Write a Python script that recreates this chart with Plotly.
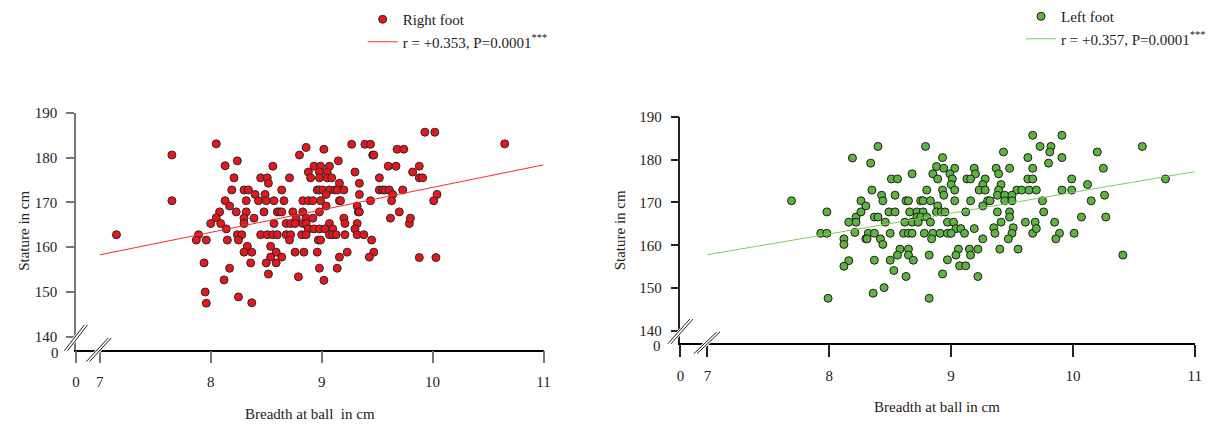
import plotly.graph_objects as go

# ---------------- data ----------------
# Right foot (left panel, red)
right_breadth = [
    7.15, 7.65, 7.65, 8.05, 8.13, 8.13, 8.08, 8.05, 8.00, 8.09, 8.14, 7.89, 7.87, 7.96, 8.15, 7.94, 8.12, 7.95, 7.96, 8.17,
    8.86, 9.02, 9.68, 9.74, 9.27, 9.39, 9.44, 8.80, 9.46, 9.47, 8.24, 9.15,
    8.56, 8.93, 8.99, 9.07, 9.60, 9.67,
    8.88, 8.98, 9.05, 9.30,
    8.21, 8.45, 8.51, 8.71, 8.90, 8.98, 9.05, 9.09, 9.52,
    8.52, 9.16, 9.34,
    8.19, 8.30, 8.34, 8.64, 8.96, 8.98, 9.01, 9.07, 9.12, 9.14, 9.20, 9.52, 9.55, 9.57, 9.61, 9.73,
    8.40, 8.49, 9.04, 9.34, 9.64,
    8.32, 8.43, 8.50, 8.57, 8.66, 8.83, 8.88, 8.92, 8.99, 9.16, 9.17, 9.44, 9.63,
    8.17, 9.04, 9.32,
    8.23, 8.32, 8.48, 8.60, 8.62, 8.64, 8.74, 8.83, 8.98, 9.33, 9.34, 9.70,
    8.30, 8.39, 8.77, 8.86, 8.92, 9.20, 9.62,
    8.30, 8.57, 8.68, 8.72, 8.76, 8.83, 8.86, 9.07, 9.21, 9.32, 9.79,
    8.88, 8.93, 8.98, 9.03, 9.10, 9.30,
    8.24, 8.28, 8.45, 8.51, 8.56, 8.60, 8.68, 8.72, 8.82, 8.86, 9.07, 9.10, 9.13, 9.21, 9.32, 9.38,
    8.25, 8.71, 8.97, 8.99, 9.45,
    8.33, 8.54,
    8.30, 8.37, 8.59, 8.76, 8.84, 8.96, 9.23, 9.47,
    8.54, 8.64, 9.16, 9.43,
    8.36, 8.50, 8.59,
    8.98, 9.14,
    8.52, 8.79, 9.02, 8.25, 8.37,
    9.93, 10.02, 10.65, 9.82, 9.88, 9.88, 9.91, 10.04, 10.01, 9.80, 9.88, 10.03,
]
right_stature = [
    162.8, 180.6, 170.4, 183.1, 178.2, 170.4, 167.9, 166.6, 165.3, 165.3, 164.1, 162.8, 161.6, 161.6, 161.6, 156.5, 152.7, 150.0, 147.5, 155.3,
    182.3, 181.9, 181.9, 181.9, 183.0, 183.0, 183.0, 180.6, 180.6, 180.6, 179.3, 179.3,
    178.1, 178.1, 178.1, 178.1, 178.1, 178.1,
    176.8, 176.8, 176.8, 176.8,
    175.5, 175.5, 175.5, 175.5, 175.5, 175.5, 175.5, 175.5, 175.5,
    174.3, 174.3, 174.3,
    172.8, 172.8, 172.8, 172.8, 172.8, 172.8, 172.8, 172.8, 172.8, 172.8, 172.8, 172.8, 172.8, 172.8, 172.8, 172.8,
    171.8, 171.8, 171.8, 171.8, 171.8,
    170.4, 170.4, 170.4, 170.4, 170.4, 170.4, 170.4, 170.4, 170.4, 170.4, 170.4, 170.4, 170.4,
    169.2, 169.2, 169.2,
    167.9, 167.9, 167.9, 167.9, 167.9, 167.9, 167.9, 167.9, 167.9, 167.9, 167.9, 167.9,
    166.5, 166.5, 166.5, 166.5, 166.5, 166.5, 166.5,
    165.3, 165.3, 165.3, 165.3, 165.3, 165.3, 165.3, 165.3, 165.3, 165.3, 165.3,
    164.1, 164.1, 164.1, 164.1, 164.1, 164.1,
    162.8, 162.8, 162.8, 162.8, 162.8, 162.8, 162.8, 162.8, 162.8, 162.8, 162.8, 162.8, 162.8, 162.8, 162.8, 162.8,
    161.6, 161.6, 161.6, 161.6, 161.6,
    160.2, 160.2,
    158.9, 158.9, 158.9, 158.9, 158.9, 158.9, 158.9, 158.9,
    157.8, 157.8, 157.8, 157.8,
    156.5, 156.5, 156.5,
    155.3, 155.3,
    154.0, 153.4, 152.6, 148.9, 147.6,
    185.7, 185.7, 183.1, 176.8, 178.1, 175.5, 175.5, 171.8, 170.4, 166.5, 157.7, 157.7,
]

# Left foot (right panel, green)
left_breadth = [
    7.69, 7.98, 7.93, 7.98, 8.12, 8.12, 8.16, 8.12, 7.99, 8.19, 8.16, 8.22, 8.22, 8.21,
    9.67, 8.40, 8.79, 9.43, 8.93, 9.63, 8.34,
    8.88, 8.94, 9.03, 9.19, 9.37, 9.48, 9.67,
    8.68, 8.85, 8.99, 9.20, 9.39,
    8.51, 8.56, 8.89, 9.01, 9.13, 9.16, 9.28, 9.63, 9.67,
    9.00, 9.26, 9.41,
    8.35, 8.80, 8.93, 9.03, 9.23, 9.28, 9.39, 9.54, 9.58, 9.64, 9.70,
    8.43, 8.54, 8.94, 9.38, 9.44, 9.50,
    8.26, 8.44, 8.63, 8.65, 8.75, 8.77, 8.83, 9.03, 9.16, 9.30, 9.32, 9.44, 9.50,
    8.30, 8.89, 9.26,
    8.26, 8.49, 8.54, 8.66, 8.72, 8.77, 8.88, 8.92, 8.95, 9.12, 9.38, 9.48,
    8.37, 8.40, 8.72, 8.75, 8.80, 9.48,
    8.46, 8.62, 8.68, 8.73, 8.83, 8.97, 9.02, 9.41, 9.61, 9.69,
    9.04, 9.08, 9.19, 9.35, 9.51,
    8.32, 8.37, 8.50, 8.61, 8.65, 8.68, 8.78, 8.85, 8.91, 8.97, 9.00, 9.11, 9.36, 9.50, 9.67,
    8.30, 8.31, 8.42, 8.84, 9.26, 9.47,
    8.44,
    8.58, 8.65, 9.06, 9.15, 9.22, 9.40, 9.55,
    8.56, 8.65, 8.82, 9.04, 9.16,
    8.37, 8.50, 8.69, 8.97,
    9.07, 9.12, 8.53, 8.63, 8.93, 9.22, 8.45, 8.36, 8.82,
    9.73, 9.82, 9.91, 9.81, 10.20, 10.57, 9.91, 9.80, 10.25, 9.99, 10.12, 10.76,
    9.91, 9.99, 10.26, 10.15, 9.76, 10.07, 10.27, 9.85, 9.89, 10.01, 9.86, 10.41, 9.75, 9.70,
]
left_stature = [
    170.4, 167.8, 162.8, 162.8, 161.5, 160.2, 156.4, 155.1, 147.6, 180.4, 165.4, 166.6, 165.4, 163.0,
    185.7, 183.1, 183.1, 181.8, 180.5, 180.5, 179.2,
    178.4, 178.0, 178.0, 178.0, 178.0, 178.0, 178.0,
    176.7, 176.7, 176.7, 176.7, 176.7,
    175.5, 175.5, 175.5, 175.5, 175.5, 175.5, 175.5, 175.5, 175.5,
    174.2, 174.2, 174.2,
    172.9, 172.9, 172.9, 172.9, 172.9, 172.9, 172.9, 172.9, 172.9, 172.9, 172.9,
    171.7, 171.7, 171.7, 171.7, 171.7, 171.7,
    170.4, 170.4, 170.4, 170.4, 170.4, 170.4, 170.4, 170.4, 170.4, 170.4, 170.4, 170.4, 170.4,
    169.2, 169.2, 169.2,
    167.8, 167.8, 167.8, 167.8, 167.8, 167.8, 167.8, 167.8, 167.8, 167.8, 167.8, 167.8,
    166.6, 166.6, 166.6, 166.6, 166.6, 166.6,
    165.4, 165.4, 165.4, 165.4, 165.4, 165.4, 165.4, 165.4, 165.4, 165.4,
    163.9, 163.9, 163.9, 164.1, 164.1,
    162.8, 162.8, 162.8, 162.8, 162.8, 162.8, 162.8, 162.8, 162.8, 162.8, 162.8, 162.8, 162.8, 162.8, 162.8,
    161.5, 161.5, 161.5, 161.5, 161.5, 161.5,
    160.2,
    159.1, 159.1, 159.1, 159.1, 159.1, 159.1, 159.1,
    157.7, 157.7, 157.7, 157.7, 157.7,
    156.5, 156.5, 156.5, 156.6,
    155.2, 155.2, 154.1, 152.7, 153.3, 152.7, 150.1, 148.8, 147.6,
    183.1, 183.1, 185.7, 181.8, 181.8, 183.1, 180.5, 179.2, 178.0, 175.5, 174.2, 175.5,
    172.9, 172.9, 171.7, 170.4, 167.8, 166.6, 166.6, 165.4, 162.8, 162.8, 161.5, 157.7, 170.4, 163.9,
]

# regression lines (end points)
right_fit_x = [7.0, 11.0]
right_fit_y = [158.3, 178.4]
left_fit_x = [7.0, 11.0]
left_fit_y = [157.8, 177.2]

x_ticks = [7, 8, 9, 10, 11]
y_ticks = [140, 150, 160, 170, 180, 190]
right_label = "Right foot"
left_label = "Left foot"
right_r_label = "r = +0.353, P=0.0001<sup>***</sup>"
left_r_label = "r = +0.357, P=0.0001<sup>***</sup>"

# ---------------- layout geometry ----------------
W, H = 1211, 427
FONT = "Liberation Serif, Times New Roman, serif"


def px(x):
    return x / W


def py(y):
    return 1 - y / H


L_X0, R_X0 = 6.785, 6.778   # axis origin shown as "0"
L_Y0, R_Y0 = 137.1, 137.2

fig = go.Figure()

fig.add_trace(go.Scatter(
    x=right_breadth, y=right_stature, mode="markers", name=right_label,
    marker=dict(size=8, color="#e8161c", line=dict(color="#2a2a2a", width=1)),
    xaxis="x", yaxis="y", legend="legend", legendgroup="a"))
fig.add_trace(go.Scatter(
    x=right_fit_x, y=right_fit_y, mode="lines", name=right_r_label,
    line=dict(color="#ff2a2a", width=1),
    xaxis="x", yaxis="y", legend="legend", legendgroup="b"))
fig.add_trace(go.Scatter(
    x=left_breadth, y=left_stature, mode="markers", name=left_label,
    marker=dict(size=8, color="#5db33d", line=dict(color="#1e1e1e", width=1)),
    xaxis="x2", yaxis="y2", legend="legend2", legendgroup="c"))
fig.add_trace(go.Scatter(
    x=left_fit_x, y=left_fit_y, mode="lines", name=left_r_label,
    line=dict(color="#7fcc5a", width=1),
    xaxis="x2", yaxis="y2", legend="legend2", legendgroup="d"))

tickfont = dict(family=FONT, size=15, color="#222")


def xaxis(domain, x0, anchor, color):
    return dict(domain=domain, range=[x0, 11], anchor=anchor,
                tickvals=[x0] + x_ticks, ticktext=["0"] + [str(v) for v in x_ticks],
                ticks="outside", ticklen=12, tickwidth=1.5, tickcolor=color,
                showline=True, linecolor="black", linewidth=1.5,
                showgrid=False, zeroline=False, tickfont=tickfont,
                ticklabelstandoff=6, automargin=False, fixedrange=True)


def yaxis(domain, y0, anchor, color):
    return dict(domain=domain, range=[y0, 190], anchor=anchor,
                tickvals=y_ticks, ticktext=[str(v) for v in y_ticks],
                ticks="outside", ticklen=8, tickwidth=1.5, tickcolor=color,
                showline=True, linecolor=color, linewidth=1.5,
                showgrid=False, zeroline=False, tickfont=tickfont,
                ticklabelstandoff=6, automargin=False, fixedrange=True)


fig.update_layout(
    width=W, height=H,
    margin=dict(l=0, r=0, t=0, b=0),
    paper_bgcolor="white", plot_bgcolor="white",
    font=dict(family=FONT, size=15, color="#222"),
    xaxis=xaxis([px(76), px(544)], L_X0, "y", "#777"),
    yaxis=yaxis([py(349), py(110)], L_Y0, "x", "#777"),
    xaxis2=xaxis([px(681), px(1195.7)], R_X0, "y2", "#222"),
    yaxis2=yaxis([py(342), py(114)], R_Y0, "x2", "#222"),
    legend=dict(x=px(363), y=py(-1), xanchor="left", yanchor="top",
                bgcolor="rgba(0,0,0,0)", font=dict(family=FONT, size=15, color="#222"),
                tracegroupgap=0, itemwidth=30),
    legend2=dict(x=px(1022), y=py(-4), xanchor="left", yanchor="top",
                 bgcolor="rgba(0,0,0,0)", font=dict(family=FONT, size=15, color="#222"),
                 tracegroupgap=0, itemwidth=30),
    showlegend=True,
)

# axis titles and the "0" labels of the y axes
ann = [
    dict(text="Stature in cm", x=px(24), y=py(229), textangle=-90),
    dict(text="Breadth at ball\u00a0 in cm", x=px(310), y=py(414)),
    dict(text="Stature in cm", x=px(620), y=py(228), textangle=-90),
    dict(text="Breadth at ball in cm", x=px(938), y=py(407)),
]
for a in ann:
    fig.add_annotation(xref="paper", yref="paper", showarrow=False,
                       xanchor="center", yanchor="middle",
                       font=dict(family=FONT, size=15, color="#222"), **a)
fig.add_annotation(text="0", xref="paper", yref="paper", x=px(61), y=py(352),
                   xanchor="right", yanchor="middle", showarrow=False,
                   font=dict(family=FONT, size=15, color="#222"))
fig.add_annotation(text="0", xref="paper", yref="paper", x=px(664), y=py(345),
                   xanchor="right", yanchor="middle", showarrow=False,
                   font=dict(family=FONT, size=15, color="#222"))


# axis-break marks (double slashes)
def slash(x1, y1, x2, y2):
    fig.add_shape(type="line", xref="paper", yref="paper", layer="above",
                  x0=px(x1), y0=py(y1), x1=px(x2), y1=py(y2),
                  line=dict(color="white", width=5))
    for d in (-1.6, 1.6):
        fig.add_shape(type="line", xref="paper", yref="paper", layer="above",
                      x0=px(x1 + d), y0=py(y1), x1=px(x2 + d), y1=py(y2),
                      line=dict(color="#222", width=1))


slash(66, 350, 86, 324)
slash(88, 361, 110, 337)
slash(670, 343, 692, 318)
slash(696, 353, 719, 331)

fig.write_html("out.html", config={"displayModeBar": False},
               post_script="document.body.style.margin='0px';")
